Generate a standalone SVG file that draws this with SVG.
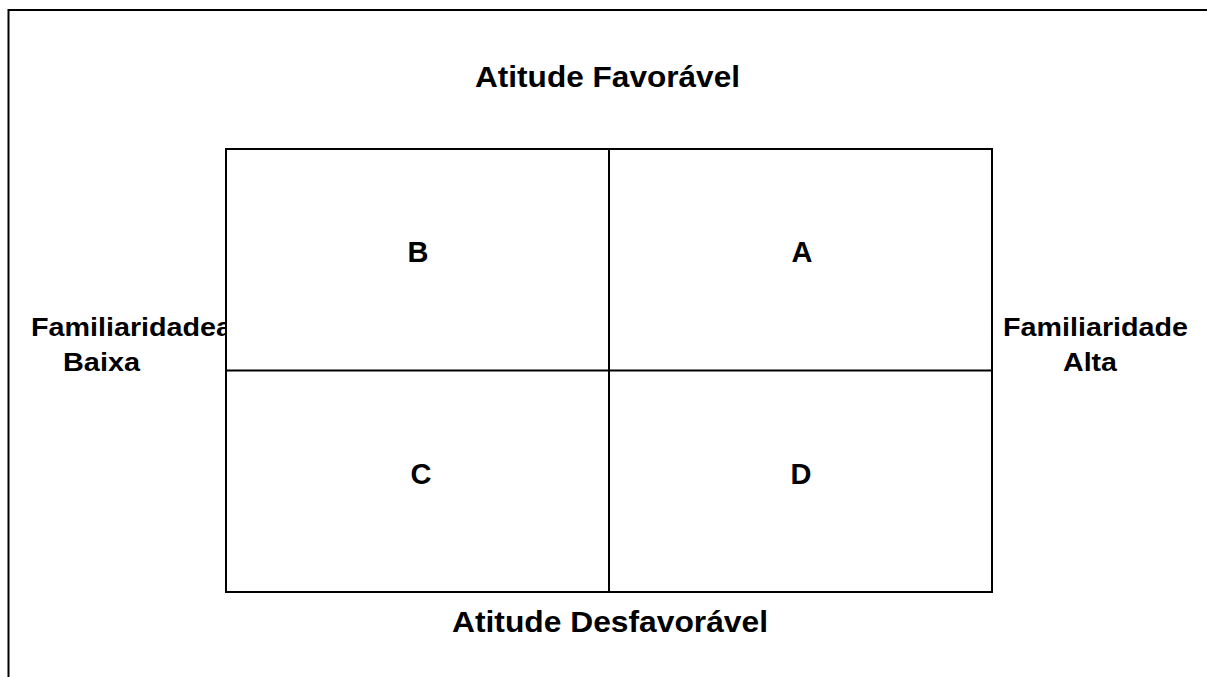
<svg xmlns="http://www.w3.org/2000/svg" width="1207" height="677" viewBox="0 0 1207 677">
<style>
text{font-family:"Liberation Sans",Arial,sans-serif;font-weight:bold;fill:#000}
.t{font-size:29px}
.s{font-size:25px}
.q{font-size:29px;text-anchor:middle}
.ln{stroke:#000;stroke-width:2;fill:none}
</style>
<rect width="1207" height="677" fill="#fff"/>
<path class="ln" d="M8.5,677 V10 H1207"/>
<g id="label-left">
<text class="s" x="31" y="336" textLength="201" lengthAdjust="spacingAndGlyphs">Familiaridadea</text>
<text class="s" x="63" y="371" textLength="77" lengthAdjust="spacingAndGlyphs">Baixa</text>
</g>
<g id="grid">
<rect x="226" y="149" width="766" height="443" fill="#fff" stroke="#000" stroke-width="2"/>
</g>
<g id="connectors">
<line class="ln" x1="609" y1="149" x2="609" y2="592"/>
<line class="ln" x1="226" y1="370.5" x2="992" y2="370.5"/>
</g>
<g id="title-top"><text class="t" x="475" y="87" textLength="265" lengthAdjust="spacingAndGlyphs">Atitude Favorável</text></g>
<g id="title-bottom"><text class="t" x="452" y="632" textLength="316" lengthAdjust="spacingAndGlyphs">Atitude Desfavorável</text></g>
<g id="label-right">
<text class="s" x="1003" y="336" textLength="185" lengthAdjust="spacingAndGlyphs">Familiaridade</text>
<text class="s" x="1063" y="371" textLength="54" lengthAdjust="spacingAndGlyphs">Alta</text>
</g>
<g id="cell-B"><text class="q" x="418" y="262">B</text></g>
<g id="cell-A"><text class="q" x="802" y="262">A</text></g>
<g id="cell-C"><text class="q" x="421" y="484">C</text></g>
<g id="cell-D"><text class="q" x="801" y="484">D</text></g>
</svg>
